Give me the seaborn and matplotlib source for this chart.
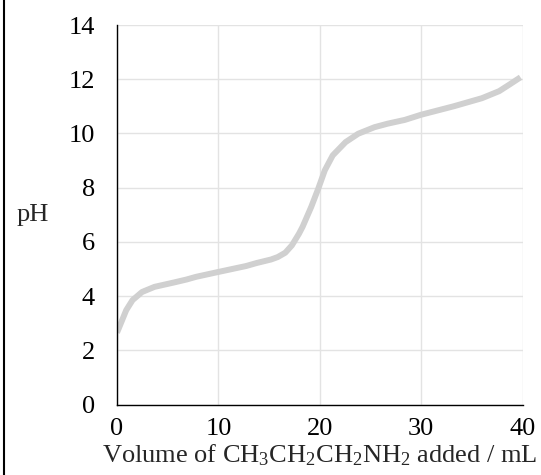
import matplotlib
matplotlib.use("Agg")
import matplotlib.pyplot as plt
import seaborn as sns
import pandas as pd
from matplotlib.lines import Line2D

volume_ml = [0, 0.44, 0.91, 1.53, 2.47, 3.7, 5.6, 6.85, 7.8, 10, 12.75, 13.78, 15.2, 15.86,
             16.6, 17.25, 17.95, 18.3, 19.16, 19.85, 20.5, 21.28, 22.55, 23.8, 25.4, 26.7,
             28.4, 30, 33.2, 34.6, 36, 37.7, 38.7, 39.8]
ph_values = [2.65, 3.05, 3.48, 3.85, 4.15, 4.34, 4.5, 4.61, 4.71, 4.89, 5.11, 5.22, 5.35, 5.44,
             5.6, 5.87, 6.3, 6.55, 7.29, 7.96, 8.64, 9.19, 9.68, 9.99, 10.23, 10.36,
             10.5, 10.69, 11.0, 11.15, 11.3, 11.56, 11.8, 12.07]
x_ticks = [0, 10, 20, 30, 40]
y_ticks = [0, 2, 4, 6, 8, 10, 12, 14]

sns.set_style("white")
plt.rcParams["font.family"] = ["Liberation Serif", "DejaVu Serif"]
plt.rcParams["mathtext.fontset"] = "custom"
plt.rcParams["mathtext.rm"] = "Liberation Serif"
plt.rcParams["mathtext.it"] = "Liberation Serif"

df = pd.DataFrame({"volume": volume_ml, "pH": ph_values})

fig = plt.figure(figsize=(5.41, 4.75), dpi=100)
ax = fig.add_axes([117 / 541, 1 - 404.5 / 475, 405.5 / 541, 379.5 / 475])

sns.lineplot(data=df, x="volume", y="pH", ax=ax, color="#d0d0d0", linewidth=4.3,
             solid_capstyle="butt", solid_joinstyle="round")

ax.set_xlim(0, 40)
ax.set_ylim(0, 14)
ax.set_xticks(x_ticks)
ax.set_yticks(y_ticks)
ax.set_xticklabels([str(t) for t in x_ticks])
ax.set_yticklabels([str(t) for t in y_ticks])
ax.grid(True, color="#e3e3e3", linewidth=1.0)
ax.set_axisbelow(True)

for s in ["top", "right"]:
    ax.spines[s].set_visible(False)
for s in ["left", "bottom"]:
    ax.spines[s].set_color("black")
    ax.spines[s].set_linewidth(1.0)

ax.tick_params(axis="y", length=6.5, width=1, color="#e3e3e3", pad=9.5,
               labelsize=19, labelcolor="black")
ax.tick_params(axis="x", length=4.5, width=1, color="#555555", pad=5,
               labelsize=19, labelcolor="black")

ax.set_xlabel("Volume of CH$_3$CH$_2$CH$_2$NH$_2$ added / mL", fontsize=19, labelpad=2)
ax.set_ylabel("pH", fontsize=19, rotation=0, ha="center", va="center")
ax.yaxis.set_label_coords((32.5 - 117) / 405.5, 0.5)

fig.add_artist(Line2D([3.5 / 541, 3.5 / 541], [0, 1], transform=fig.transFigure,
                      color="black", linewidth=1.5))

fig.savefig("out.png", dpi=100)
